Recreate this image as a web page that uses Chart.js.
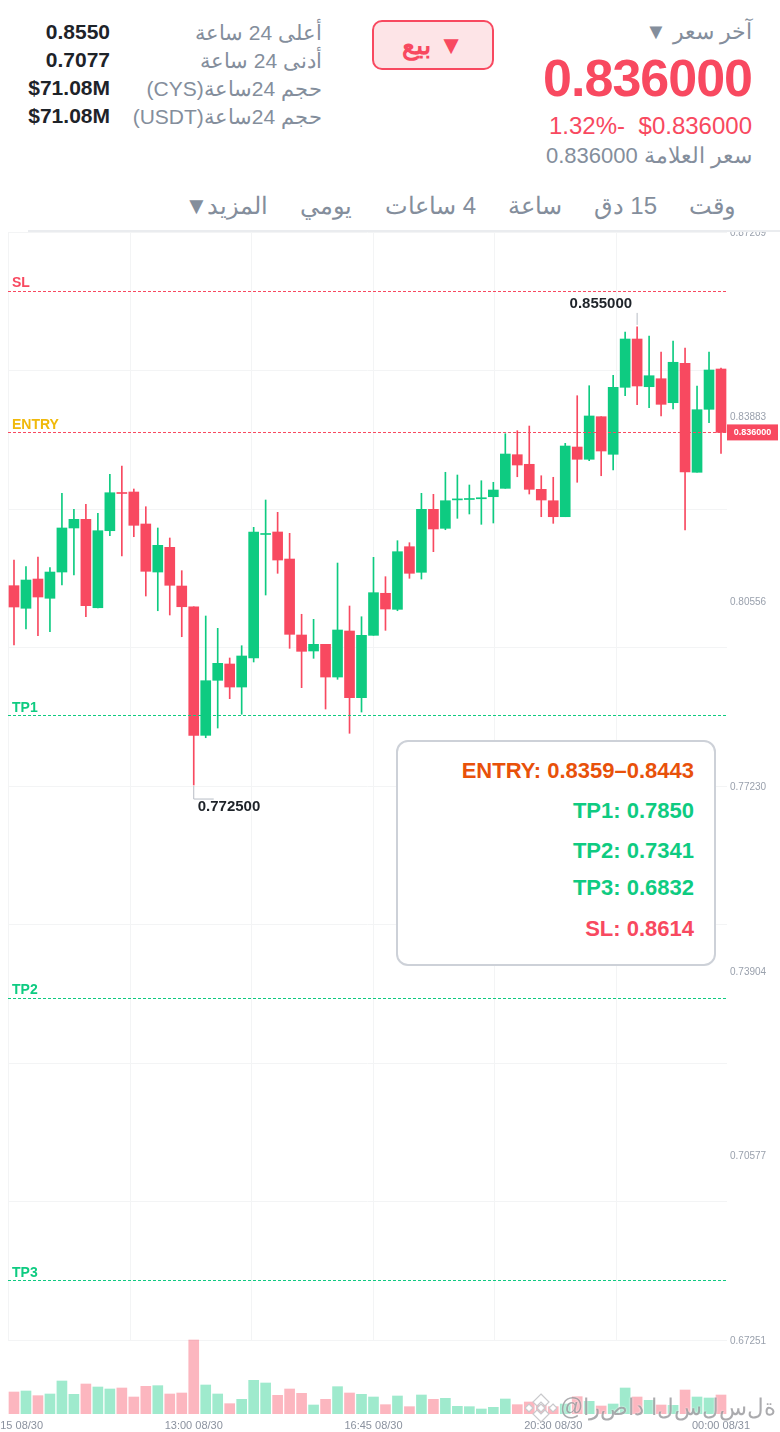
<!DOCTYPE html>
<html lang="ar">
<head>
<meta charset="utf-8">
<title>CYS/USDT</title>
<script src="https://cdn.jsdelivr.net/npm/chart.js@4/dist/chart.umd.min.js"></script>
<style>
  html, body { margin: 0; padding: 0; background: #fff; width: 780px; height: 1432px; overflow: hidden; }
  body { position: relative; font-family: "Liberation Sans", "Noto Sans", sans-serif; }
  #myChart { position: absolute; left: 0; top: 0; display: block; }
  #header { position: absolute; left: 0; top: 0; width: 780px; height: 230px; background: #fff; z-index: 2; }
  #header .rule { position: absolute; left: 28px; top: 230px; width: 752px; height: 2px; background: #eaecef; }
  #header::after { content: ""; position: absolute; left: 0; top: 230px; width: 28px; height: 2px; background: #fff; }
  .t { position: absolute; white-space: nowrap; transform: translateY(-50%); direction: rtl; color: #848e9c; font-size: 21px; line-height: 1; }
  .val { direction: ltr; color: #1e2329; font-weight: bold; font-size: 21px; }
  .red { color: #f84960; }
  .tab { font-size: 24px; }
  #side { position: absolute; left: 372px; top: 20px; width: 118px; height: 46px; border: 2px solid #f84960; border-radius: 10px; background: #fde4e7;
          color: #f84960; font-size: 26px; font-weight: bold; direction: rtl; text-align: center; line-height: 46px; }
  #box { position: absolute; left: 396px; top: 740px; width: 316px; height: 222px; border: 2px solid #cdd1d8; border-radius: 12px; background: #fff; z-index: 1; }
  #box div { position: absolute; right: 20px; font-size: 22px; font-weight: bold; line-height: 1; white-space: nowrap; transform: translateY(-50%); }
  #mark { position: absolute; left: 525px; top: 1390px; height: 34px; width: 255px; z-index: 3; pointer-events: none; }
  #mark svg { position: absolute; left: 0; top: 2px; }
  #mark span { position: absolute; left: 35px; top: 2px; font-size: 23px; line-height: 30px; color: rgba(120,120,125,.62); white-space: nowrap;
               direction: ltr; unicode-bidi: bidi-override; text-shadow: 0 0 2px #fff; }
</style>
</head>
<body>
<div id="header">
  <div class="t" style="right:28px;top:32px;font-size:22px">آخر سعر ▼</div>
  <div class="t red" style="right:28px;top:78px;font-size:52px;font-weight:bold;direction:ltr;letter-spacing:-1px">0.836000</div>
  <div class="t red" style="right:28px;top:126px;font-size:24px;direction:ltr">$0.836000</div>
  <div class="t red" style="right:155px;top:126px;font-size:24px">-1.32%</div>
  <div class="t" style="right:28px;top:156px;font-size:22px">سعر العلامة 0.836000</div>
  <div id="side">▼ بيع</div>
  <div class="t" style="right:458px;top:32px">أعلى 24 ساعة</div>
  <div class="t" style="right:458px;top:60px">أدنى 24 ساعة</div>
  <div class="t" style="right:458px;top:88px">حجم 24ساعة(CYS)</div>
  <div class="t" style="right:458px;top:116px">حجم 24ساعة(USDT)</div>
  <div class="t val" style="right:670px;top:31px">0.8550</div>
  <div class="t val" style="right:670px;top:59px">0.7077</div>
  <div class="t val" style="right:670px;top:87px">$71.08M</div>
  <div class="t val" style="right:670px;top:115px">$71.08M</div>
  <div class="t tab" style="right:44px;top:206px">وقت</div>
  <div class="t tab" style="right:123px;top:206px">15 دق</div>
  <div class="t tab" style="right:218px;top:206px">ساعة</div>
  <div class="t tab" style="right:304px;top:206px">4 ساعات</div>
  <div class="t tab" style="right:428px;top:206px">يومي</div>
  <div class="t tab" style="right:512px;top:206px;word-spacing:-8px">المزيد ▼</div>
  <div class="rule"></div>
</div>

<canvas id="myChart" width="780" height="1432"></canvas>

<div id="box">
  <div style="top:29px;color:#e8510a">ENTRY: 0.8359–0.8443</div>
  <div style="top:69px;color:#0ecb81">TP1: 0.7850</div>
  <div style="top:109px;color:#0ecb81">TP2: 0.7341</div>
  <div style="top:146px;color:#0ecb81">TP3: 0.6832</div>
  <div style="top:187px;color:#f84960">SL: 0.8614</div>
</div>

<div id="mark">
  <svg width="32" height="32" viewBox="0 0 32 32">
    <g fill="#fff" stroke="#c9c9cc" stroke-width="1.2">
      <path d="M16 2 L24 10 L20 14 L16 10 L12 14 L8 10 Z"/>
      <path d="M16 30 L24 22 L20 18 L16 22 L12 18 L8 22 Z"/>
      <path d="M4 12 L8 16 L4 20 L0 16 Z"/>
      <path d="M28 12 L32 16 L28 20 L24 16 Z"/>
      <path d="M16 12 L20 16 L16 20 L12 16 Z"/>
    </g>
  </svg>
  <span>@ا&zwnj;ر&zwnj;ص&zwnj;ا&zwnj;د ا&zwnj;ل&zwnj;س&zwnj;ل&zwnj;س&zwnj;ل&zwnj;ة</span>
</div>

<script>
const timeLabels = [
  '09:15 08/30','09:30 08/30','09:45 08/30','10:00 08/30','10:15 08/30','10:30 08/30','10:45 08/30','11:00 08/30','11:15 08/30','11:30 08/30',
  '11:45 08/30','12:00 08/30','12:15 08/30','12:30 08/30','12:45 08/30','13:00 08/30','13:15 08/30','13:30 08/30','13:45 08/30','14:00 08/30',
  '14:15 08/30','14:30 08/30','14:45 08/30','15:00 08/30','15:15 08/30','15:30 08/30','15:45 08/30','16:00 08/30','16:15 08/30','16:30 08/30',
  '16:45 08/30','17:00 08/30','17:15 08/30','17:30 08/30','17:45 08/30','18:00 08/30','18:15 08/30','18:30 08/30','18:45 08/30','19:00 08/30',
  '19:15 08/30','19:30 08/30','19:45 08/30','20:00 08/30','20:15 08/30','20:30 08/30','20:45 08/30','21:00 08/30','21:15 08/30','21:30 08/30',
  '21:45 08/30','22:00 08/30','22:15 08/30','22:30 08/30','22:45 08/30','23:00 08/30','23:15 08/30','23:30 08/30','23:45 08/30','00:00 08/31'
];
const shownTimes = [0, 15, 30, 45, 59];

const opens = [
  .80840,.80433,.80960,.80613,.81086,.81879,.82035,.80443,.81830,.82503,
  .82527,.81951,.81086,.81531,.80834,.80461,.78145,.79136,.79430,.79015,
  .79538,.81762,.81807,.81320,.79952,.79664,.79784,.79195,.80024,.78823,
  .79946,.80703,.80414,.81542,.81081,.82215,.81873,.82385,.82392,.82405,
  .82442,.82593,.83199,.83026,.82575,.82370,.82082,.83337,.83116,.83883,
  .83206,.84412,.85282,.84423,.84567,.84135,.84845,.82882,.84016,.84742
];
const closes = [
  .80456,.80942,.80636,.81086,.81879,.82035,.80479,.81830,.82514,.82500,
  .81927,.81099,.81567,.80847,.80461,.78145,.79129,.79442,.79015,.79574,
  .81807,.81765,.81302,.79964,.79658,.79784,.79195,.80042,.78823,.79946,
  .80714,.80420,.81452,.81063,.82215,.81861,.82370,.82388,.82395,.82424,
  .82563,.83211,.83013,.82575,.82383,.82082,.83355,.83116,.83896,.83265,
  .84412,.85282,.84436,.84621,.84106,.84863,.82887,.84009,.84724,.83600
];
const highs = [
  .81302,.81182,.81356,.81164,.82503,.82215,.82305,.82143,.82846,.82995,
  .82581,.82262,.81879,.81699,.81110,.80461,.80294,.80072,.79538,.79759,
  .81891,.82383,.82161,.81783,.80325,.80234,.79784,.81248,.80474,.80281,
  .81351,.81002,.81650,.81614,.82503,.82485,.82882,.82833,.82653,.82730,
  .82702,.83577,.83631,.83715,.82820,.82792,.83404,.84261,.84441,.83883,
  .84628,.85408,.85500,.85336,.85048,.85246,.85120,.84436,.85048,.84760
];
const lows = [
  .79772,.80060,.79939,.80011,.80852,.81032,.80281,.80438,.81740,.81374,
  .81722,.80654,.80389,.80312,.79921,.77250,.78102,.78277,.78805,.78524,
  .79466,.80672,.81063,.79712,.79003,.79532,.78619,.79154,.78182,.78565,
  .79946,.80036,.80389,.80973,.80960,.81452,.81848,.82053,.82131,.81945,
  .81969,.82593,.82802,.82491,.82082,.81963,.82082,.82702,.83091,.82820,
  .82923,.84261,.84099,.84045,.83896,.84022,.81843,.82882,.83775,.83224
];
const volumes = [
   66, 69, 55, 60, 99, 59, 90, 81, 75, 78,
   51, 83, 85, 60, 63,222, 87, 60, 31, 44,
  101, 93, 56, 75, 62, 27, 44, 82, 63, 59,
   51, 28, 54, 22, 57, 44, 47, 23, 22, 15,
   20, 45, 28, 36, 27, 22, 30, 52, 38, 24,
   30, 78, 51, 41, 27, 26, 72, 51, 48, 57
];

const priceTicks = [.87209, .83883, .80556, .77230, .73904, .70577, .67251];
const gridPrices = [.87209, .84714, .82220, .79725, .77230, .74735, .72240, .69746, .67251];
const gridTimes = [0, 1, 2, 3, 4, 5];

const levelNames = ['SL', 'ENTRY', 'TP1', 'TP2', 'TP3'];
const levelValues = [.8614, .8359, .7850, .7341, .6832];
const levelColors = ['#f84960', '#f0b90b', '#0ecb81', '#0ecb81', '#0ecb81'];
const lastPrice = .836;
const dayHigh = .855;
const dayLow = .7725;

const GREEN = '#0ecb81';
const RED = '#f84960';
const GRID = '#f3f4f5';
const isUp = i => closes[i] >= opens[i];

// grid, levels and price tags, all placed from the chart scales
const overlays = {
  id: 'overlays',
  beforeDatasetsDraw(chart) {
    const { ctx, chartArea, scales } = chart;
    ctx.save();
    ctx.strokeStyle = GRID;
    ctx.lineWidth = 1;
    const bottom = scales.y.getPixelForValue(gridPrices[gridPrices.length - 1]);
    gridTimes.forEach(v => {
      const x = Math.round(scales.x2.getPixelForValue(v)) + .5;
      ctx.beginPath();
      ctx.moveTo(x, chartArea.top);
      ctx.lineTo(x, bottom);
      ctx.stroke();
    });
    ctx.restore();
  },
  afterDatasetsDraw(chart) {
    const { ctx, chartArea, scales } = chart;
    const y = scales.y;
    const dashed = (value, color) => {
      const py = Math.floor(y.getPixelForValue(value)) + .5;
      ctx.strokeStyle = color;
      ctx.lineWidth = 1;
      ctx.setLineDash([3, 2]);
      ctx.beginPath();
      ctx.moveTo(chartArea.left, py);
      ctx.lineTo(chartArea.right, py);
      ctx.stroke();
      ctx.setLineDash([]);
    };
    ctx.save();
    levelValues.forEach((v, i) => {
      dashed(v, levelColors[i]);
      ctx.fillStyle = levelColors[i];
      ctx.font = 'bold 14px "Liberation Sans"';
      ctx.textAlign = 'left';
      ctx.textBaseline = 'alphabetic';
      ctx.fillText(levelNames[i], chartArea.left + 4, y.getPixelForValue(v) - 4);
    });
    dashed(lastPrice, RED);

    // current price tag on the axis
    const tagY = y.getPixelForValue(lastPrice);
    ctx.fillStyle = RED;
    ctx.fillRect(chartArea.right, tagY - 8, 51, 16);
    ctx.fillStyle = '#fff';
    ctx.font = 'bold 9px "Liberation Sans"';
    ctx.textAlign = 'center';
    ctx.textBaseline = 'middle';
    ctx.fillText(lastPrice.toFixed(6), chartArea.right + 25.5, tagY + .5);

    // high and low markers
    const hiX = scales.x.getPixelForValue(highs.indexOf(dayHigh));
    const hiY = y.getPixelForValue(dayHigh);
    const loX = scales.x.getPixelForValue(lows.indexOf(dayLow));
    const loY = y.getPixelForValue(dayLow);
    ctx.strokeStyle = '#b7bcc5';
    ctx.beginPath();
    ctx.moveTo(hiX, hiY - 2);
    ctx.lineTo(hiX, hiY - 14);
    ctx.moveTo(loX, loY + 1);
    ctx.lineTo(loX, loY + 14);
    ctx.lineTo(loX + 20, loY + 14);
    ctx.stroke();
    ctx.fillStyle = '#1e2329';
    ctx.font = 'bold 15px "Liberation Sans"';
    ctx.textBaseline = 'middle';
    ctx.textAlign = 'right';
    ctx.fillText(dayHigh.toFixed(6), hiX - 5, hiY - 23);
    ctx.textAlign = 'left';
    ctx.fillText(dayLow.toFixed(6), loX + 4, loY + 22);
    ctx.restore();
  }
};

let ctx = document.getElementById('myChart').getContext('2d');
let myChart = new Chart(ctx, {
  type: 'bar',
  data: {
    labels: timeLabels,
    datasets: [
      {
        // volume
        data: volumes,
        yAxisID: 'yVol',
        barThickness: 10,
        backgroundColor: c => (isUp(c.dataIndex) ? 'rgba(14,203,129,.4)' : 'rgba(248,73,96,.4)'),
        order: 3
      },
      {
        // wicks
        data: lows.map((l, i) => [l, highs[i]]),
        barThickness: 1,
        backgroundColor: c => (isUp(c.dataIndex) ? GREEN : RED),
        order: 2
      },
      {
        // bodies
        data: opens.map((o, i) => [o, closes[i]]),
        barThickness: 10,
        minBarLength: 1,
        backgroundColor: c => (isUp(c.dataIndex) ? GREEN : RED),
        order: 1
      }
    ]
  },
  plugins: [overlays],
  options: {
    responsive: false,
    animation: false,
    layout: { autoPadding: false, padding: { left: 8, top: 232, right: 0, bottom: 0 } },
    datasets: { bar: { grouped: false } },
    plugins: { legend: { display: false }, tooltip: { enabled: false } },
    scales: {
      x: {
        offset: true,
        grid: { display: false, drawTicks: false },
        border: { display: false },
        // first label runs off the left edge, do not let it squeeze the plot
        afterFit: s => { s.height = 18; s.paddingLeft = 0; s.paddingRight = 0; },
        ticks: {
          autoSkip: false,
          maxRotation: 0,
          padding: 5,
          color: '#8b929f',
          font: { size: 11, family: 'Liberation Sans' },
          callback(v, i) { return shownTimes.includes(i) ? timeLabels[i] : ''; }
        }
      },
      // vertical grid spacing does not follow the candles
      x2: { type: 'linear', display: false, offset: false, min: 0, max: 5.913 },
      y: {
        position: 'right',
        min: .65924,
        max: .87209,
        border: { display: false },
        afterFit: s => { s.width = 53; },
        afterBuildTicks: s => {
          s.ticks = [...new Set([...gridPrices, ...priceTicks])].map(value => ({ value }));
        },
        grid: {
          drawTicks: false,
          color: c => (gridPrices.includes(c.tick.value) ? GRID : 'transparent')
        },
        ticks: {
          padding: 3,
          labelOffset: 1,
          color: '#9aa1ad',
          font: { size: 10, family: 'Liberation Sans' },
          callback: v => (priceTicks.includes(v) ? v.toFixed(5) : '')
        }
      },
      yVol: { display: false, min: 0, max: 3546 }
    }
  }
});
</script>
</body>
</html>
